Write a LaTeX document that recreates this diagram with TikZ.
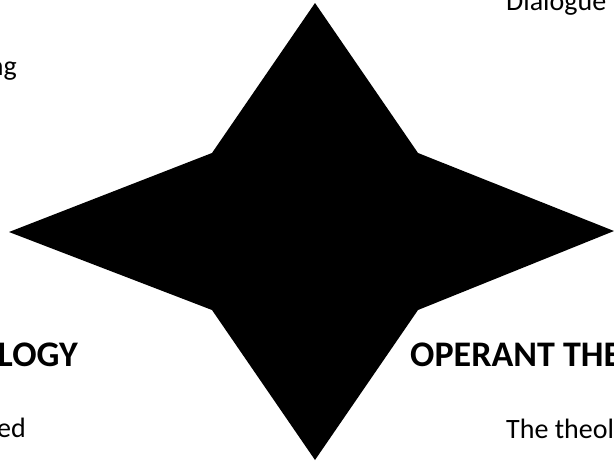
\documentclass[tikz,border=0pt]{standalone}
\usepackage{fontspec}
\setmainfont{Carlito}
\begin{document}
\begin{tikzpicture}[x=1pt,y=-1pt,
  txt/.style={inner sep=0pt,font=\fontsize{28}{34}\selectfont},
  boldtxt/.style={inner sep=0pt,font=\fontsize{36}{43}\selectfont\bfseries}]
\useasboundingbox (0,0) rectangle (614,461);
\fill[black] (315,3) -- (418,153) -- (614,231) -- (418,310) -- (315,460)
  -- (212,310) -- (9,232) -- (212,153) -- cycle;
\node[txt, anchor=base west] (dlg) at (506,10) {Dialogue};
\node[txt, anchor=base east] (ng) at (17,75) {ng};
\node[boldtxt, anchor=base east] (logy) at (78,366) {LOGY};
\node[txt, anchor=base east] (ed) at (26,437) {ed};
\node[boldtxt, anchor=base west] (op) at (410,366) {OPERANT THE};
\node[txt, anchor=base west] (the) at (506,438) {The theol};
\end{tikzpicture}
\end{document}
